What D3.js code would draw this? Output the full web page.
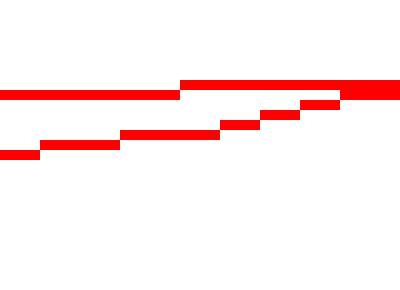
<!DOCTYPE html>
<html>
<head>
<meta charset="utf-8">
<script src="https://cdn.jsdelivr.net/npm/d3@7"></script>
<style>
  html, body { margin: 0; padding: 0; background: #fff; overflow: hidden; }
  svg { display: block; }
</style>
</head>
<body>
<svg></svg>
<script>
const width = 400;
const height = 290;

// step boundaries (x units) and levels for each series
const upperStarts = [0, 9];
const upperEnds = [9, 20];
const upperLevels = [20, 21];

const lowerStarts = [0, 2, 6, 11, 13, 15, 17];
const lowerEnds = [2, 6, 11, 13, 15, 17, 20];
const lowerLevels = [14, 15, 16, 17, 18, 19, 20];

const toSegments = (s, e, v) => s.map((d, i) => ({ x0: d, x1: e[i], v: v[i] }));
const segments = toSegments(upperStarts, upperEnds, upperLevels)
  .concat(toSegments(lowerStarts, lowerEnds, lowerLevels));

const svg = d3.select('svg')
  .attr('width', width)
  .attr('height', height);

const x = d3.scaleLinear().domain([0, 20]).range([0, width]);
const y = d3.scaleLinear().domain([0, 29]).range([height, 0]);

svg.selectAll('rect')
  .data(segments)
  .enter()
  .append('rect')
  .attr('x', d => x(d.x0))
  .attr('width', d => x(d.x1) - x(d.x0))
  .attr('y', d => y(d.v))
  .attr('height', d => y(d.v - 1) - y(d.v))
  .attr('fill', '#ff0000')
  .attr('shape-rendering', 'crispEdges');
</script>
</body>
</html>
